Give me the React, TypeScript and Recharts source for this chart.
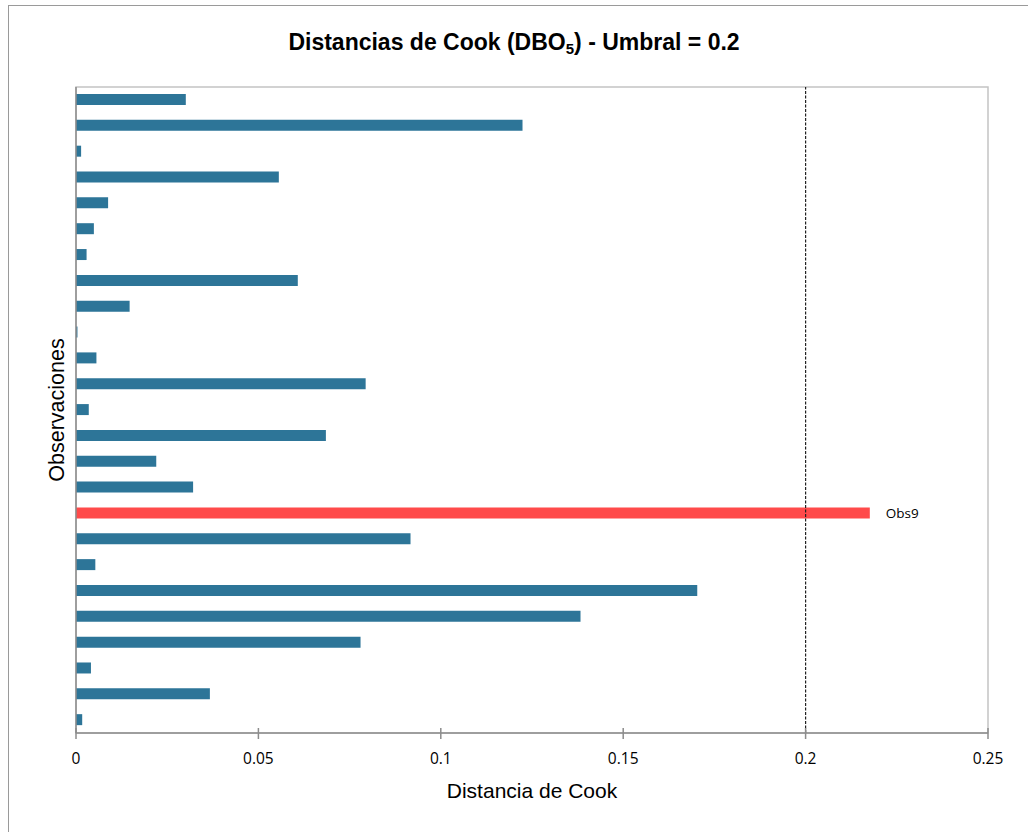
import React from 'react';
import {
  BarChart,
  Bar,
  XAxis,
  YAxis,
  Cell,
  LabelList,
  ReferenceLine,
  ReferenceArea,
} from 'recharts';

// Obs1 is drawn at the bottom, Obs25 at the top
const observations = [
  'Obs1', 'Obs2', 'Obs3', 'Obs4', 'Obs5', 'Obs6', 'Obs7', 'Obs8', 'Obs9', 'Obs10',
  'Obs11', 'Obs12', 'Obs13', 'Obs14', 'Obs15', 'Obs16', 'Obs17', 'Obs18', 'Obs19', 'Obs20',
  'Obs21', 'Obs22', 'Obs23', 'Obs24', 'Obs25',
];

const cookDistance = [
  0.0017, 0.0367, 0.0041, 0.078, 0.1383, 0.1703, 0.0053, 0.0917, 0.2176, 0.0321,
  0.022, 0.0685, 0.0035, 0.0794, 0.0056, 0.0004, 0.0147, 0.0608, 0.0029, 0.0049,
  0.0088, 0.0556, 0.0014, 0.1224, 0.0301,
];

const xTicks = [0, 0.05, 0.1, 0.15, 0.2, 0.25];
const threshold = 0.2;
const highlighted = 'Obs9';

const data = observations.map((name, i) => ({
  name,
  value: cookDistance[i],
  label: name === highlighted ? name : '',
}));

const BAR_COLOR = '#2D7598';
const HIGHLIGHT_COLOR = '#FF4A4A';
const ARIAL = '"Liberation Sans", Arial, sans-serif';
const CALIBRI = '"Open Sans", sans-serif';
const TICK_MARGIN = 20;

const XTick = (props: any) => {
  const { x, y, payload } = props;
  const axisY = y - TICK_MARGIN;
  return (
    <g>
      <line x1={x} x2={x} y1={axisY - 5} y2={axisY + 6} stroke="#8C8C8C" strokeWidth={1.5} />
      <text x={x} y={y + 11} textAnchor="middle" fontSize={15.5} fontFamily={CALIBRI} fill="#000">
        {payload.value}
      </text>
    </g>
  );
};

export default function App() {
  return (
    <div style={{ position: 'absolute', left: 0, top: 0, width: 1028, height: 832, overflow: 'hidden', background: '#fff' }}>
      <div
        style={{
          position: 'absolute',
          left: 8,
          top: 5,
          width: 1060,
          height: 860,
          border: '1.5px solid #9A9A9A',
        }}
      />
      <div
        style={{
          position: 'absolute',
          left: 0,
          top: 27,
          width: 1028,
          textAlign: 'center',
          fontFamily: ARIAL,
          fontWeight: 'bold',
          fontSize: 23,
          lineHeight: '30px',
          color: '#000',
        }}
      >
        Distancias de Cook (DBO<sub style={{ fontSize: 15, verticalAlign: -4 }}>5</sub>) - Umbral = 0.2
      </div>
      <div style={{ position: 'absolute', left: 0, top: 0 }}>
        <BarChart
          width={1028}
          height={832}
          data={data}
          layout="vertical"
          margin={{ top: 87, right: 40, bottom: 29, left: 36 }}
        >
          <ReferenceArea x1={0} x2={0.25} fill="none" stroke="#C4C4C4" strokeWidth={1.5} />
          <XAxis
            type="number"
            domain={[0, 0.25]}
            ticks={xTicks}
            height={70}
            tickSize={0}
            tickMargin={TICK_MARGIN}
            tickLine={false}
            tick={<XTick />}
            axisLine={{ stroke: '#8C8C8C', strokeWidth: 1.5 }}
            label={{
              value: 'Distancia de Cook',
              position: 'insideBottom',
              offset: 5,
              fontSize: 21,
              fontFamily: ARIAL,
              fill: '#000',
            }}
          />
          <YAxis
            type="category"
            dataKey="name"
            reversed
            width={40}
            tick={false}
            tickLine={false}
            axisLine={{ stroke: '#8C8C8C', strokeWidth: 1.5 }}
            label={{
              value: 'Observaciones',
              angle: -90,
              position: 'center',
              fontSize: 21.5,
              fontFamily: ARIAL,
              fill: '#000',
            }}
          />
          <Bar dataKey="value" barSize={11} isAnimationActive={false}>
            {data.map((d) => (
              <Cell key={d.name} fill={d.name === highlighted ? HIGHLIGHT_COLOR : BAR_COLOR} />
            ))}
            <LabelList dataKey="label" position="right" offset={16} fontSize={13.5} fontFamily={CALIBRI} fill="#000" />
          </Bar>
          <ReferenceLine x={threshold} stroke="#222" strokeWidth={1.2} strokeDasharray="3 1.5" />
        </BarChart>
      </div>
    </div>
  );
}
